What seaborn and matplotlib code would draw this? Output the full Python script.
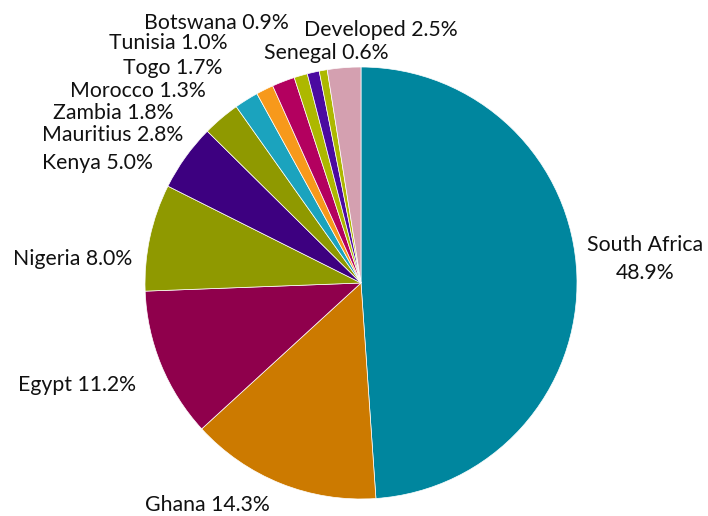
import matplotlib
matplotlib.use("Agg")
import matplotlib.pyplot as plt
import seaborn as sns

countries = ["South Africa", "Ghana", "Egypt", "Nigeria", "Kenya", "Mauritius",
             "Zambia", "Morocco", "Togo", "Tunisia", "Botswana", "Senegal", "Developed"]
shares = [48.9, 14.3, 11.2, 8.0, 5.0, 2.8, 1.8, 1.3, 1.7, 1.0, 0.9, 0.6, 2.5]
colors = ["#00869e", "#cc7a00", "#8f004c", "#8f9900", "#3d0080", "#8f9900",
          "#1ba3be", "#f7991b", "#b3005f", "#adb800", "#4b0aa0", "#adb800", "#d4a0b0"]

# label positions in figure pixels (layout only)
label_px = [(645, 259), (207, 505), (77, 385), (73, 259), (97, 163), (113, 135),
            (113, 113), (138, 91), (173, 68), (168, 43), (216, 23), (326, 53), (381, 30)]

sns.set_theme(style="white")
plt.rcParams["font.family"] = ["Lato", "DejaVu Sans"]

W, H = 708, 516
fig = plt.figure(figsize=(W / 100, H / 100), dpi=100)
cx, cy, r = 361, 283, 216
ax = fig.add_axes([(cx - r) / W, (H - cy - r) / H, 2 * r / W, 2 * r / H])
palette = sns.color_palette(colors)
ax.pie(shares, colors=palette, startangle=90, counterclock=False, radius=1,
       wedgeprops=dict(edgecolor="white", linewidth=0.5))
ax.set_xlim(-1, 1)
ax.set_ylim(-1, 1)
ax.set_axis_off()

for name, val, (px, py) in zip(countries, shares, label_px):
    if name == "South Africa":
        txt = f"{name}\n{val:.1f}%"
    else:
        txt = f"{name} {val:.1f}%"
    fig.text(px / W, 1 - py / H, txt, ha="center", va="center", fontsize=15.3,
             color="#111111", linespacing=1.45)

fig.savefig("out.png", dpi=100, facecolor="white")
